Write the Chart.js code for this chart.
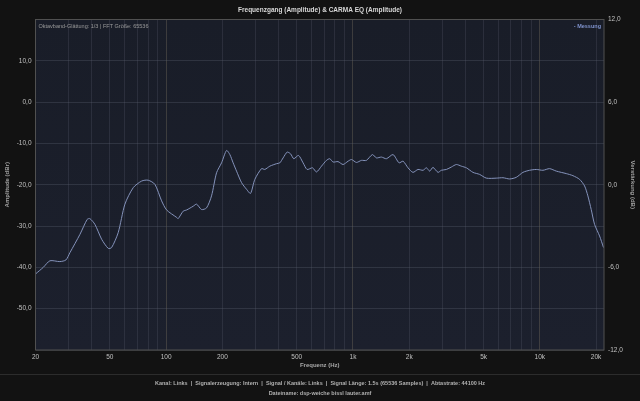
<!DOCTYPE html>
<html><head><meta charset="utf-8">
<script src="https://cdn.jsdelivr.net/npm/chart.js@4"></script>
<style>html,body{margin:0;padding:0;background:#121212;overflow:hidden}canvas{display:block}</style>
</head><body>
<canvas id="c" width="640" height="401"></canvas>
<script>
const freqHz = [20,22,23.9,27,29.1,30.6,34.6,37.8,39.1,41.6,45.2,49,51.1,55.4,60.2,66.7,74,80.2,87.1,94.6,100.6,113.8,116,123.4,128.8,139.6,145.6,154.8,164.6,175,186.2,198,210.6,219.4,228.4,238.2,253.4,269.4,283,298.4,324,337.4,359,390,406,422.8,444.2,463.2,482.4,511.2,540.8,568.2,607.4,637.8,678.6,721.2,751.6,782.6,831.8,885,941.4,981.8,1044,1110,1180,1271,1335,1421,1510,1639,1764,1854,1971,2094,2228,2372,2472,2574,2680,2852,2972,3162,3364,3576,3802,4046,4386,4764,5174,5848,6350,6894,7482,8122,8812,9572,10388,11272,12248,13852,15032,16326,17362,18078,18838,19634,20880,21920];
const amplitudeDb = [-41.6,-40.0,-38.4,-38.6,-38.2,-36.4,-32,-28.4,-28.2,-29.6,-33.2,-35.4,-35.2,-31.6,-24.7,-20.7,-19.1,-18.9,-19.9,-23.9,-26.1,-27.9,-28.2,-26.4,-26.1,-25.2,-24.7,-26,-25.6,-22.7,-17.1,-14.7,-11.7,-12.7,-14.7,-16.7,-19.5,-21.1,-22.1,-18.7,-16.1,-16.3,-15.5,-14.9,-14.7,-13.5,-12.1,-12.5,-13.7,-12.9,-14.7,-16.3,-15.9,-16.9,-15.5,-14.1,-13.7,-14.5,-14.4,-15.1,-14.3,-13.9,-14.6,-14.1,-14.1,-12.7,-13.5,-13.3,-13.7,-12.7,-14.7,-14.3,-15.9,-17,-16.3,-16.5,-15.9,-16.7,-15.8,-17,-16.5,-16.3,-15.7,-15.1,-15.5,-15.9,-17,-17.5,-18.4,-18.4,-18.3,-18.6,-18.2,-17,-16.5,-16.3,-16.5,-16.1,-16.7,-17.3,-17.8,-18.7,-20.3,-22.7,-26,-29.6,-32.4,-35.2];
const xTickValues = [20,30,40,50,60,70,80,90,100,200,300,400,500,600,700,800,900,1000,2000,3000,4000,5000,6000,7000,8000,9000,10000,20000];
const xTickLabels = {20:'20',50:'50',100:'100',200:'200',500:'500',1000:'1k',2000:'2k',5000:'5k',10000:'10k',20000:'20k'};
const xMajorGrid = [100,1000,10000];
const leftTicks = [20,10,0,-10,-20,-30,-40,-50,-60];
const rightTicks = [12,6,0,-6,-12];
const titleText = 'Frequenzgang (Amplitude) & CARMA EQ (Amplitude)';
const infoText = 'Oktavband-Glättung: 1/3 | FFT Größe: 65536';
const seriesName = 'Messung';
const footerLine1 = 'Kanal: Links  |  Signalerzeugung: Intern  |  Signal / Kanäle: Links  |  Signal Länge: 1.5s (65536 Samples)  |  Abtastrate: 44100 Hz';
const footerLine2 = 'Dateiname: dsp-weiche bissl lauter.amf';

const FONT = '"Liberation Sans", Arial, sans-serif';
const fmt = v => v.toFixed(1).replace('.', ',');

const decor = {
  id: 'decor',
  beforeDraw(chart) {
    const {ctx, chartArea: a} = chart;
    ctx.save();
    ctx.fillStyle = '#121212';
    ctx.fillRect(0, 0, chart.width, chart.height);
    const g = ctx.createLinearGradient(0, a.top, 0, a.bottom);
    g.addColorStop(0, '#191d28');
    g.addColorStop(1, '#1c202d');
    ctx.fillStyle = g;
    ctx.fillRect(a.left, a.top, a.right - a.left, a.bottom - a.top);
    ctx.restore();
  },
  afterDraw(chart) {
    const {ctx, chartArea: a} = chart;
    ctx.save();
    ctx.strokeStyle = '#505050';
    ctx.lineWidth = 1;
    ctx.strokeRect(a.left, a.top, a.right - a.left, a.bottom - a.top);
    ctx.textBaseline = 'middle';
    ctx.fillStyle = '#d8d8d8';
    ctx.font = 'bold 6.5px ' + FONT;
    ctx.textAlign = 'center';
    ctx.fillText(titleText, 320, 10);
    ctx.font = '5.5px ' + FONT;
    ctx.fillStyle = '#9a9a9a';
    ctx.textAlign = 'left';
    ctx.fillText(infoText, a.left + 3, a.top + 6.5);
    ctx.font = 'bold 5.5px ' + FONT;
    ctx.fillStyle = '#7f92cc';
    ctx.textAlign = 'right';
    ctx.fillText('- ' + seriesName, a.right - 3, a.top + 6.5);
    ctx.strokeStyle = '#2c2c2c';
    ctx.beginPath(); ctx.moveTo(0, 374.5); ctx.lineTo(640, 374.5); ctx.stroke();
    ctx.fillStyle = '#b0b0b0';
    ctx.textAlign = 'center';
    ctx.font = 'bold 5.5px ' + FONT;
    ctx.fillText(footerLine1, 320, 383);
    ctx.fillText(footerLine2, 320, 393);
    ctx.restore();
  }
};

new Chart(document.getElementById('c'), {
  type: 'line',
  data: {
    datasets: [{
      label: seriesName,
      data: freqHz.map((f, i) => ({x: f, y: amplitudeDb[i]})),
      borderColor: '#8593bb',
      borderWidth: 1,
      pointRadius: 0,
      tension: 0.25,
      fill: false,
      yAxisID: 'y'
    }]
  },
  options: {
    responsive: false,
    animation: false,
    devicePixelRatio: 1,
    layout: {padding: {top: 19.5, bottom: 0, left: 0, right: 0}},
    plugins: {legend: {display: false}, title: {display: false}, tooltip: {enabled: false}},
    scales: {
      x: {
        type: 'logarithmic', min: 20, max: 22050,
        afterBuildTicks: s => { s.ticks = xTickValues.map(v => ({value: v})); },
        afterFit: s => { s.height = 51; },
        ticks: {autoSkip: false, maxRotation: 0, padding: 3, color: '#c0c0c0', font: {family: FONT, size: 6.5},
          callback: v => xTickLabels[v] || ''},
        grid: {drawTicks: false, color: c => (c.tick && xMajorGrid.includes(c.tick.value)) ? 'rgba(130,120,100,0.35)' : 'rgba(90,95,110,0.28)'},
        border: {display: false},
        title: {display: true, text: 'Frequenz (Hz)', color: '#a8a8a8', font: {family: FONT, size: 6, weight: 'bold'}, padding: {top: 0, bottom: 32}}
      },
      y: {
        type: 'linear', position: 'left', min: -60, max: 20,
        afterBuildTicks: s => { s.ticks = leftTicks.map(v => ({value: v})); },
        afterFit: s => { s.width = 35.5; },
        ticks: {padding: 4, color: '#c0c0c0', font: {family: FONT, size: 6.5},
          callback: v => (v === 20 || v === -60) ? '' : fmt(v)},
        grid: {drawTicks: false, color: 'rgba(90,95,110,0.35)'},
        border: {display: false},
        title: {display: true, text: 'Amplitude (dBr)', color: '#a0a0a0', font: {family: FONT, size: 6, weight: 'bold'}, padding: {top: 4, bottom: 0}}
      },
      y2: {
        type: 'linear', position: 'right', min: -12, max: 12,
        afterBuildTicks: s => { s.ticks = rightTicks.map(v => ({value: v})); },
        afterFit: s => { s.width = 36; },
        ticks: {padding: 4, color: '#c0c0c0', font: {family: FONT, size: 6.5}, callback: v => fmt(v)},
        grid: {drawTicks: false, drawOnChartArea: false},
        border: {display: false},
        title: {display: true, text: 'Verstärkung (dB)', color: '#a0a0a0', font: {family: FONT, size: 6, weight: 'bold'}, padding: {top: 4, bottom: 0}}
      }
    }
  },
  plugins: [decor]
});
</script>
</body></html>
